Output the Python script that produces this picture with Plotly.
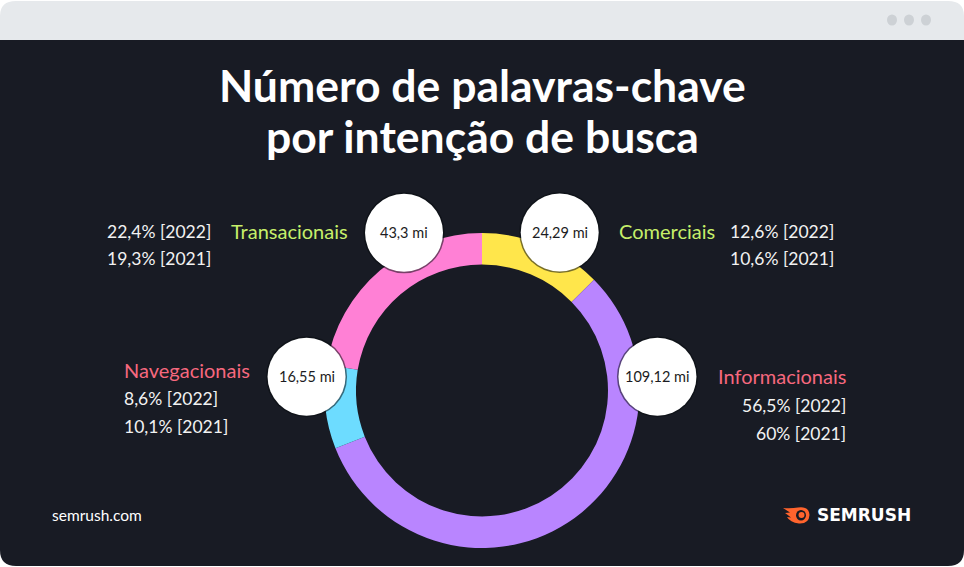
import math
import plotly.graph_objects as go

W, H = 964, 567

# ---------------- data ----------------
categories = ["Comerciais", "Informacionais", "Navegacionais", "Transacionais"]
share_2022 = [12.6, 56.5, 8.6, 22.4]
share_2021 = [10.6, 60.0, 10.1, 19.3]
volume_labels = ["24,29 mi", "109,12 mi", "16,55 mi", "43,3 mi"]
share_2022_labels = ["12,6% [2022]", "56,5% [2022]", "8,6% [2022]", "22,4% [2022]"]
share_2021_labels = ["10,6% [2021]", "60% [2021]", "10,1% [2021]", "19,3% [2021]"]

# ---------------- styling ----------------
seg_colors = ["#ffe64b", "#b985ff", "#6ddcff", "#ff80d5"]
name_colors = ["#c6ef6a", "#f6687e", "#f6687e", "#c6ef6a"]
BG = "#181b24"
FONT = "Lato"
PAD = 2.5  # annotation inner padding compensation (px)

CX, CY, R_OUT, R_IN = 482, 390.5, 157.5, 126
BUBBLE_R, BUBBLE_DIST = 39, 176
bubble_angles = [26.2, 85.5, -85.5, -26.3]   # degrees clockwise from 12 o'clock


def px(x, y):
    return x / W, 1 - y / H


def path(points_cmds):
    out = []
    for cmd, *pts in points_cmds:
        coords = []
        for (x, y) in pts:
            a, b = px(x, y)
            coords.append(f"{a:.5f},{b:.5f}")
        out.append(cmd + " " + " ".join(coords))
    return " ".join(out) + " Z"


def anchor_x(x, anchor):
    if anchor == "left":
        return x - PAD
    if anchor == "right":
        return x + PAD
    return x


fig = go.Figure()

fig.add_trace(go.Pie(
    labels=categories,
    values=share_2022,
    sort=False,
    direction="clockwise",
    rotation=0,
    hole=R_IN / R_OUT,
    marker=dict(colors=seg_colors, line=dict(width=0)),
    textinfo="none",
    hoverinfo="label+percent",
    showlegend=False,
    domain=dict(x=[(CX - R_OUT) / W, (CX + R_OUT) / W],
                y=[1 - (CY + R_OUT) / H, 1 - (CY - R_OUT) / H]),
))

shapes = []
# window frame: top bar
shapes.append(dict(type="path", xref="paper", yref="paper", layer="below",
                   path=path([("M", (0, 40)), ("L", (0, 16)), ("Q", (0, 1), (16, 1)),
                              ("L", (948, 1)), ("Q", (964, 1), (964, 16)), ("L", (964, 40))]),
                   fillcolor="#e6e9ec", line=dict(width=0)))
# dark body
shapes.append(dict(type="path", xref="paper", yref="paper", layer="below",
                   path=path([("M", (0, 40)), ("L", (964, 40)), ("L", (964, 550)),
                              ("Q", (964, 566), (948, 566)), ("L", (16, 566)),
                              ("Q", (0, 566), (0, 550))]),
                   fillcolor=BG, line=dict(width=0)))
# window dots
for dx in (892, 909, 926):
    x0, y0 = px(dx - 5, 14.5)
    x1, y1 = px(dx + 5, 25.5)
    shapes.append(dict(type="circle", xref="paper", yref="paper", layer="below",
                       x0=x0, x1=x1, y0=y0, y1=y1,
                       fillcolor="#cdd1d5", line=dict(width=0)))

annotations = []
# bubbles
for ang, lab in zip(bubble_angles, volume_labels):
    a = math.radians(ang)
    bx = CX + BUBBLE_DIST * math.sin(a)
    by = CY - BUBBLE_DIST * math.cos(a)
    x0, y0 = px(bx - BUBBLE_R - 1.5, by + BUBBLE_R + 1.5)
    x1, y1 = px(bx + BUBBLE_R + 1.5, by - BUBBLE_R - 1.5)
    shapes.append(dict(type="circle", xref="paper", yref="paper", layer="above",
                       x0=x0, x1=x1, y0=y0, y1=y1,
                       fillcolor="rgba(10,12,16,0.55)", line=dict(width=0)))
    x0, y0 = px(bx - BUBBLE_R, by + BUBBLE_R)
    x1, y1 = px(bx + BUBBLE_R, by - BUBBLE_R)
    shapes.append(dict(type="circle", xref="paper", yref="paper", layer="above",
                       x0=x0, x1=x1, y0=y0, y1=y1,
                       fillcolor="#ffffff", line=dict(width=0)))
    ax, ay = px(bx, by)
    annotations.append(dict(x=ax, y=ay, xref="paper", yref="paper", text=lab,
                            showarrow=False, xanchor="center", yanchor="middle",
                            font=dict(family=FONT, size=14.5, color="#1c1c22")))

# title
for txt, ty in (("Número de palavras-chave", 85), ("por intenção de busca", 135)):
    ax, ay = px(W / 2, ty)
    annotations.append(dict(x=ax, y=ay, xref="paper", yref="paper", text=f"<b>{txt}</b>",
                            showarrow=False, xanchor="center", yanchor="middle",
                            font=dict(family=FONT, size=44.5, color="#ffffff")))

# category labels and shares (layout positions)
label_layout = [
    dict(name=(619, 231, "left"), sh=(833, "right", 231, 258)),
    dict(name=(845, 376, "right"), sh=(845, "right", 405, 433)),
    dict(name=(124, 370, "left"), sh=(124, "left", 398, 426)),
    dict(name=(231, 231, "left"), sh=(107, "left", 231, 258)),
]
for i, cfg in enumerate(label_layout):
    nx, ny, na = cfg["name"]
    ax, ay = px(anchor_x(nx, na), ny)
    annotations.append(dict(x=ax, y=ay, xref="paper", yref="paper", text=categories[i],
                            showarrow=False, xanchor=na, yanchor="middle",
                            font=dict(family=FONT, size=20, color=name_colors[i])))
    sx, sa, y1, y2 = cfg["sh"]
    for txt, yy in ((share_2022_labels[i], y1), (share_2021_labels[i], y2)):
        ax, ay = px(anchor_x(sx, sa), yy)
        annotations.append(dict(x=ax, y=ay, xref="paper", yref="paper", text=txt,
                                showarrow=False, xanchor=sa, yanchor="middle",
                                font=dict(family=FONT, size=17.5, color="#f2f2f2")))

# footer
ax, ay = px(anchor_x(52, "left"), 515)
annotations.append(dict(x=ax, y=ay, xref="paper", yref="paper", text="semrush.com",
                        showarrow=False, xanchor="left", yanchor="middle",
                        font=dict(family=FONT, size=15.5, color="#ffffff")))
ax, ay = px(anchor_x(817, "left"), 515)
annotations.append(dict(x=ax, y=ay, xref="paper", yref="paper", text="<b>SEMRUSH</b>",
                        showarrow=False, xanchor="left", yanchor="middle",
                        font=dict(family="DejaVu Sans", size=17, color="#ffffff")))
# logo mark
shapes.append(dict(type="path", xref="paper", yref="paper", layer="above",
                   path=path([("M", (783, 508)), ("Q", (792, 508.5), (798, 507.5)),
                              ("Q", (809, 506), (809.5, 515)), ("Q", (809, 524), (799, 523.5)),
                              ("Q", (790, 522.5), (787, 517)), ("L", (791, 517.5)),
                              ("Q", (787, 514), (785, 513)), ("L", (790, 512.5))]),
                   fillcolor="#ff642d", line=dict(width=0)))
x0, y0 = px(796, 520.5)
x1, y1 = px(806, 510)
shapes.append(dict(type="circle", xref="paper", yref="paper", layer="above",
                   x0=x0, x1=x1, y0=y0, y1=y1, fillcolor=BG, line=dict(width=0)))
x0, y0 = px(798.5, 518)
x1, y1 = px(804.5, 512)
shapes.append(dict(type="circle", xref="paper", yref="paper", layer="above",
                   x0=x0, x1=x1, y0=y0, y1=y1, fillcolor="#ff642d", line=dict(width=0)))

fig.update_layout(
    width=W, height=H,
    margin=dict(l=0, r=0, t=0, b=0),
    paper_bgcolor="#ffffff",
    plot_bgcolor="#ffffff",
    shapes=shapes,
    annotations=annotations,
    showlegend=False,
)

fig.write_html("out.html", config=dict(displayModeBar=False),
               post_script="document.body.style.margin='0';document.body.style.overflow='hidden';")
